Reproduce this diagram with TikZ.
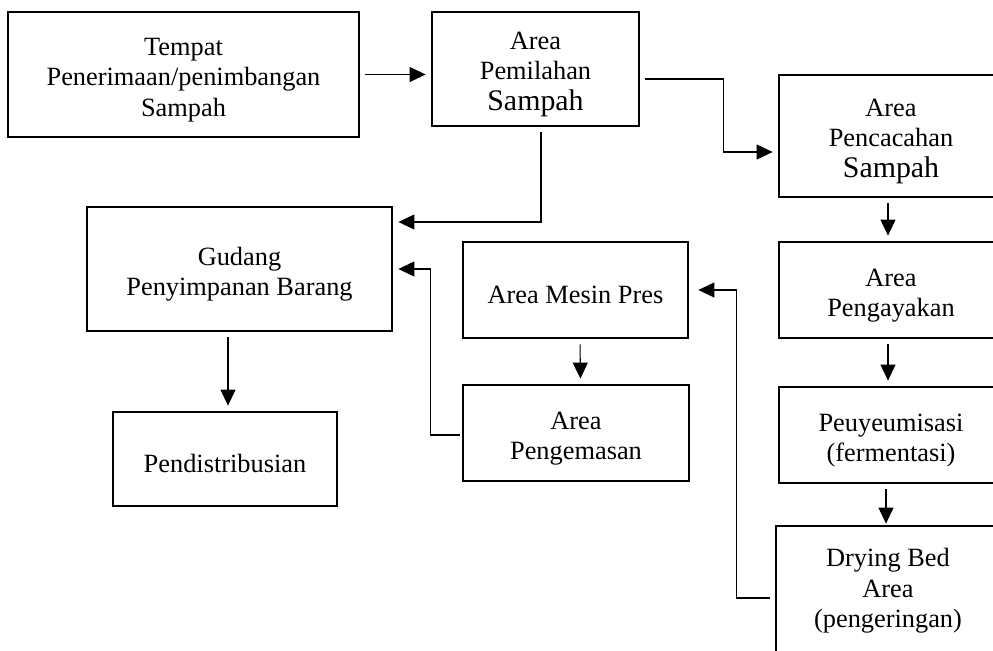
\documentclass[tikz,border=0pt]{standalone}
\usepackage{fontspec}
\setmainfont{Liberation Serif}
\usetikzlibrary{arrows.meta}
\tikzset{
  stage box/.style 2 args={
    draw,
    line width=1.6pt,
    minimum width={#1*0.2mm},
    minimum height={#2*0.2mm},
    inner sep=0pt,
    align=center,
    font=\fontsize{15}{17.3}\selectfont,
  },
  link/.style={
    line width=0.6pt,
    -{Triangle[length=3.2mm,width=3mm]},
    shorten <=1mm,
    shorten >=1mm,
  }
}
\newcommand\largeword[1]{{\fontsize{17}{17}\selectfont #1}}
\newcommand\topgap{\rule{0pt}{16pt}}

\begin{document}
\begin{tikzpicture}[x=0.2mm, y=-0.2mm]
        \useasboundingbox (0,0) rectangle (993,650);
        \clip (0,0) rectangle (993,650);

        \node [stage box={351}{125}] (tempat) at (183.5,74.5) {\topgap Tempat\\Penerimaan/penimbangan\\Sampah};
        \node [stage box={207}{114}] (pemilahan) at (535.5,69) {\topgap Area\\Pemilahan\\\largeword{Sampah}};
        \node [stage box={224}{122}] (pencacahan) at (891,136) {\topgap Area\\Pencacahan\\\largeword{Sampah}};
        \node [stage box={224}{96}] (pengayakan) at (891,290) {\topgap Area\\Pengayakan};
        \node [stage box={224}{96}] (peuyeumisasi) at (891,435) {\topgap Peuyeumisasi\\(fermentasi)};
        \node [stage box={224}{130}] (drying) at (888,591) {Drying Bed\\Area\\(pengeringan)};
        \node [stage box={305}{124}] (gudang) at (239.5,269) {\topgap Gudang\\Penyimpanan Barang};
        \node [stage box={224}{94}] (distribusi) at (225,459) {\topgap Pendistribusian};
        \node [stage box={225}{96}] (mesinpres) at (575.5,290) {\topgap Area Mesin Pres};
        \node [stage box={226}{96}] (pengemasan) at (576,433) {\topgap Area\\Pengemasan};

        \draw [link] (tempat.east) -- (pemilahan.west |- tempat.east);
        \draw [link] ([yshift=-2mm]pemilahan.east) -- ++(83,0) |- ([yshift=-3.2mm]pencacahan.west);
        \draw [link] ([xshift=1.1mm]pemilahan.south) |- ([yshift=9.4mm]gudang.east);
        \draw [link] ([xshift=-0.6mm]pencacahan.south) -- ([xshift=-0.6mm]pengayakan.north);
        \draw [link] ([xshift=-0.6mm]pengayakan.south) -- ([xshift=-0.6mm]peuyeumisasi.north);
        \draw [link, shorten >=0.2mm] ([xshift=-1mm]peuyeumisasi.south) -- ([xshift=-1mm]peuyeumisasi.south |- drying.north);
        \draw [link, shorten >=1.8mm] ([yshift=-1.4mm]drying.west) -- ++(-38,0) |- (mesinpres.east);
        \draw [link] ([xshift=0.9mm]mesinpres.south) -- ([xshift=0.9mm]pengemasan.north);
        \draw [link, shorten <=0.4mm] ([yshift=-0.4mm]pengemasan.west) -- ++(-31,0) |- (gudang.east);
        \draw [link] ([xshift=0.6mm]distribusi.north |- gudang.south) -- ([xshift=0.6mm]distribusi.north);
      \end{tikzpicture}
\end{document}
